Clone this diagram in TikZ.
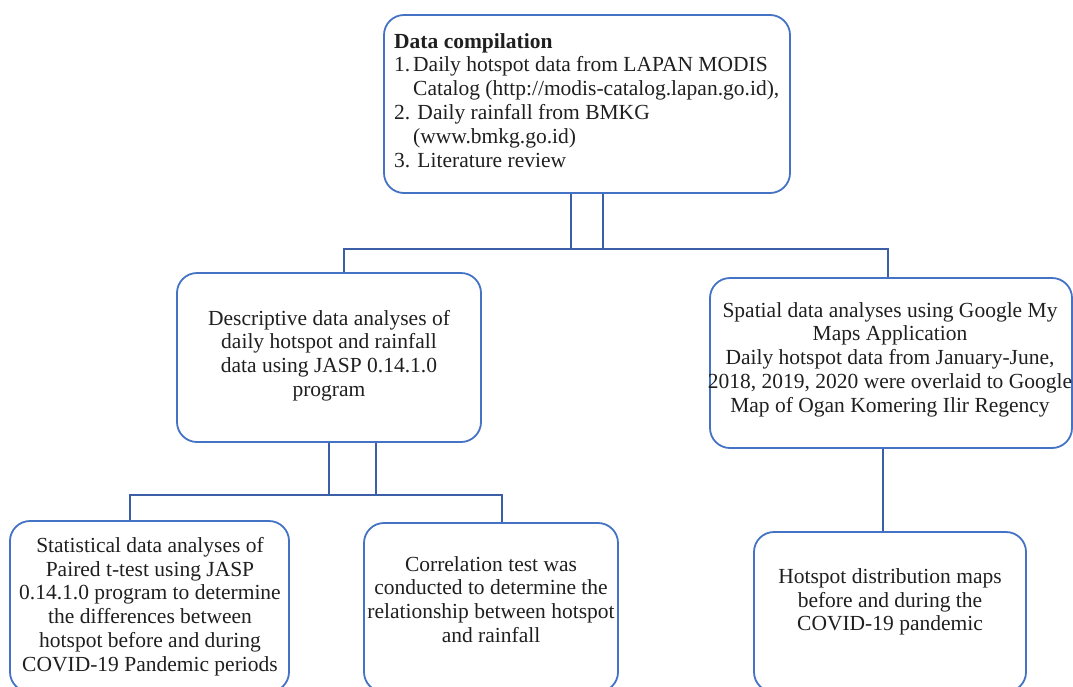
\documentclass[tikz,border=0pt]{standalone}
\usepackage{fontspec}
\setmainfont{Liberation Serif}
\definecolor{boxblue}{HTML}{4472C4}
\definecolor{linkblue}{HTML}{3B5EA6}
\begin{document}
\begin{tikzpicture}[x=1pt,y=-1pt,
  box/.style={draw=boxblue, line width=1.8pt, rounded corners=20pt, inner sep=0pt},
  link/.style={draw=linkblue, line width=1.6pt},
  txt/.style={font=\fontsize{21.5}{23.8}\selectfont, align=center, text=black!88, inner sep=0pt}]
\useasboundingbox (0,0) rectangle (1073,686);
% boxes
\node[box, minimum width=406, minimum height=178] (top) at (587,104) {};
\node[box, minimum width=304, minimum height=169] (desc) at (329,357.5) {};
\node[box, minimum width=362, minimum height=170] (spatial) at (891,363) {};
\node[box, minimum width=279, minimum height=171] (stat) at (149.5,606.5) {};
\node[box, minimum width=254, minimum height=169] (corr) at (491,607.5) {};
\node[box, minimum width=272, minimum height=160] (hot) at (890,612) {};
% texts
\node[txt, align=left, anchor=north west] (ttop) at (394,33)
 {\textbf{Data compilation}\\
  \makebox[19pt][l]{1.}Daily hotspot data from LAPAN MODIS\\
  \hspace*{19pt}Catalog (http://modis-catalog.lapan.go.id),\\
  2. Daily rainfall from BMKG\\
  \hspace*{19pt}(www.bmkg.go.id)\\
  3. Literature review};
\node[txt] (tdesc) at (329,355.5) {Descriptive data analyses of\\daily hotspot and rainfall\\data using JASP 0.14.1.0\\program};
\node[txt] (tspatial) at (890,359.5) {Spatial data analyses using Google My\\Maps Application\\Daily hotspot data from January-June,\\2018, 2019, 2020 were overlaid to Google\\Map of Ogan Komering Ilir Regency};
\node[txt] (tstat) at (150,606.5) {Statistical data analyses of\\Paired t-test using JASP\\0.14.1.0 program to determine\\the differences between\\hotspot before and during\\COVID-19 Pandemic periods};
\node[txt] (tcorr) at (491,599.5) {Correlation test was\\conducted to determine the\\relationship between hotspot\\and rainfall};
\node[txt] (thot) at (890,602) {Hotspot distribution maps\\before and during the\\COVID-19 pandemic};
% junction coordinates
\coordinate (j1) at (571,249);
\coordinate (j2) at (603,249);
\coordinate (hl) at (344,249);
\coordinate (hr) at (888,249);
\coordinate (k1) at (329,495);
\coordinate (k2) at (376,495);
\coordinate (kl) at (130,495);
\coordinate (kr) at (502,495);
\coordinate (m1) at (883,490);
% connectors
\draw[link] (top.south -| j1) -- (j1);
\draw[link] (top.south -| j2) -- (j2);
\draw[link] (desc.north -| hl) -- (hl) -- (hr) -- (spatial.north -| hr);
\draw[link] (desc.south -| k1) -- (k1);
\draw[link] (desc.south -| k2) -- (k2);
\draw[link] (stat.north -| kl) -- (kl) -- (kr) -- (corr.north -| kr);
\draw[link] (spatial.south -| m1) -- (hot.north -| m1);
\end{tikzpicture}
\end{document}
